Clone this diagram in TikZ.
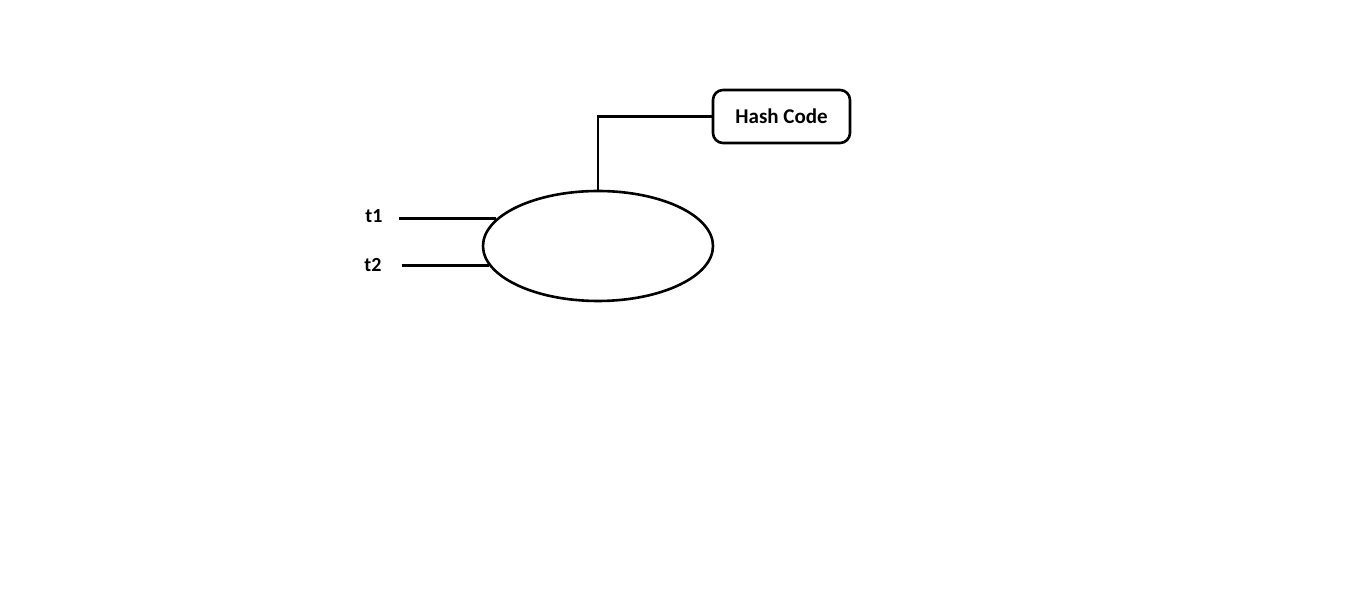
\documentclass[tikz,border=0pt]{standalone}
\usepackage{fontspec}
\setmainfont{Carlito}
\usetikzlibrary{shapes.geometric}

\begin{document}
\begin{tikzpicture}[
  x=1pt, y=1pt,
  line width=2.6pt,
  lbl/.style={font=\fontsize{20}{23}\selectfont\bfseries, inner sep=0pt},
  fnshape/.style={draw, ellipse, minimum width=230pt, minimum height=110pt, inner sep=0pt},
  codebox/.style={draw, rounded corners=10pt, minimum width=137pt, minimum height=53pt,
                  inner sep=0pt, font=\fontsize{21}{24}\selectfont\bfseries}
]
\useasboundingbox (0,0) rectangle (1360,613);
\node[fnshape] (fn) at (598,367) {};
\node[codebox] (hash) at (781.5,496.5) {Hash Code};
\node[lbl] (t1) at (374,397) {t1};
\node[lbl] (t2) at (373,348) {t2};
\coordinate (t1in) at ([xshift=-97pt]fn.165);
\coordinate (t2in) at ([xshift=-87pt]fn.190);
\draw (t1in) -- (fn.165);
\draw (t2in) -- (fn.190);
\draw (fn.north) |- (hash.west);
\end{tikzpicture}
\end{document}
